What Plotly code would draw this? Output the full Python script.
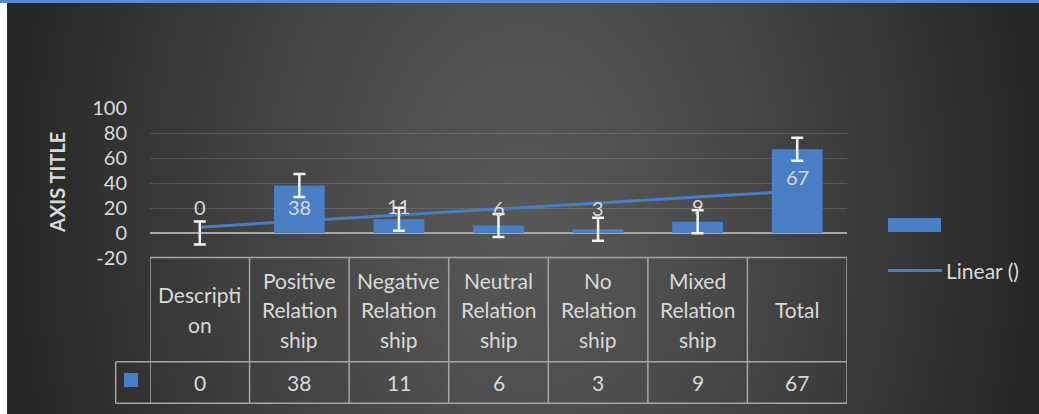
import base64
import struct
import zlib

import numpy as np
import plotly.graph_objects as go

# ---------------- data ----------------
categories = ["Description", "Positive Relationship", "Negative Relationship",
              "Neutral Relationship", "No Relationship", "Mixed Relationship", "Total"]
header_lines = [["Descripti", "on"], ["Positive", "Relation", "ship"],
                ["Negative", "Relation", "ship"], ["Neutral", "Relation", "ship"],
                ["No", "Relation", "ship"], ["Mixed", "Relation", "ship"], ["Total"]]
values = [0, 38, 11, 6, 3, 9, 67]
error_amount = 9.28          # standard-error bar (constant for all points)
trend_x = [categories[0], categories[-1]]
trend_y = [4.7, 33.6]        # linear trendline end values
y_ticks = [-20, 0, 20, 40, 60, 80, 100]
y_tick_text = ["-20", "0", "20", "40", "60", "80", "100"]

# label positions (layout, in data units)
label_y = [20.6, 20.6, 21.4, 19.8, 19.8, 21.4, 45.1]

# ---------------- geometry / style ----------------
W, H = 1039, 414
L, R, T, B = 150, 847, 108, 258
FONT = "Lato"
TXT = "#d9d9d9"
BAR = "#4a7fc5"
LINE = "#a6a6a6"


def xp(px):
    return (px - L) / (R - L)


def yp(py):
    return (B - py) / (B - T)


# ---------------- background gradient image ----------------
iw, ih = W - 7, H - 3
xs = np.arange(iw)[None, :]
ys = np.arange(ih)[:, None]
dx = (xs - iw / 2) / (iw / 2)
dy = (ys - ih / 2) / (ih / 2)
f = np.clip(np.sqrt(dx ** 2 + (0.28 * dy) ** 2), 0, 1)
c_center, c_edge = 88.0, 38.0
img = (c_edge + (c_center - c_edge) * (1 - f ** 1.3)).astype(np.uint8)
raw = b"".join(b"\x00" + img[r].tobytes() for r in range(ih))


def chunk(tag, data):
    c = struct.pack(">I", len(data)) + tag + data
    return c + struct.pack(">I", zlib.crc32(tag + data) & 0xFFFFFFFF)


png = (b"\x89PNG\r\n\x1a\n" + chunk(b"IHDR", struct.pack(">IIBBBBB", iw, ih, 8, 0, 0, 0, 0))
       + chunk(b"IDAT", zlib.compress(raw, 9)) + chunk(b"IEND", b""))
bg_src = "data:image/png;base64," + base64.b64encode(png).decode()

fig = go.Figure()

fig.add_trace(go.Bar(x=categories, y=values, marker=dict(color=BAR, line=dict(width=0)),
                     width=0.51, showlegend=False, hoverinfo="skip"))
fig.add_trace(go.Scatter(x=trend_x, y=trend_y, mode="lines",
                         line=dict(color="#4a7ec2", width=3), showlegend=False,
                         hoverinfo="skip"))
fig.add_trace(go.Scatter(x=categories, y=values, mode="markers",
                         marker=dict(opacity=0, size=1),
                         error_y=dict(type="constant", value=error_amount, color="#f2f2f2",
                                      thickness=2.5, width=6),
                         showlegend=False, hoverinfo="skip"))


def txt(x, y, text, xref="paper", yref="paper", size=21, **kw):
    d = dict(x=x, y=y, xref=xref, yref=yref, text=text, showarrow=False,
             xanchor="center", yanchor="middle",
             font=dict(family=FONT, size=size, color=TXT))
    d.update(kw)
    return d


annotations = []
for c, ly, v in zip(categories, label_y, values):
    annotations.append(txt(c, ly, str(v), xref="x", yref="y", size=20))

# axis title
annotations.append(txt(xp(57), yp(183), "<b>AXIS TITLE</b>", size=20, textangle=-90))

# data table
shapes = []
tbl_top, tbl_mid, tbl_bot = 257.5, 361.7, 403.3
key_left = 115.7
shapes.append(dict(type="line", xref="paper", yref="paper", x0=xp(L), x1=xp(R),
                   y0=yp(tbl_top), y1=yp(tbl_top), line=dict(color=LINE, width=1.5)))
for yy in (tbl_mid, tbl_bot):
    shapes.append(dict(type="line", xref="paper", yref="paper", x0=xp(key_left), x1=xp(R),
                       y0=yp(yy), y1=yp(yy), line=dict(color=LINE, width=1.5)))
shapes.append(dict(type="line", xref="paper", yref="paper", x0=xp(key_left), x1=xp(key_left),
                   y0=yp(tbl_mid), y1=yp(tbl_bot), line=dict(color=LINE, width=1.5)))
for i in range(len(categories) + 1):
    shapes.append(dict(type="line", xref="x", yref="paper", x0=i - 0.5, x1=i - 0.5,
                       y0=yp(tbl_top), y1=yp(tbl_bot), line=dict(color=LINE, width=1.5)))
# key square in table
shapes.append(dict(type="rect", xref="paper", yref="paper", x0=xp(124), x1=xp(138),
                   y0=yp(387), y1=yp(373), fillcolor=BAR, line=dict(width=0)))

head_c = (tbl_top + tbl_mid) / 2
for c, lines, v in zip(categories, header_lines, values):
    n = len(lines)
    for j, t in enumerate(lines):
        yy = head_c + (j - (n - 1) / 2) * 29.5
        annotations.append(txt(c, yp(yy), t, xref="x"))
    annotations.append(txt(c, yp((tbl_mid + tbl_bot) / 2), str(v), xref="x"))

# legend (manual)
shapes.append(dict(type="rect", xref="paper", yref="paper", x0=xp(888), x1=xp(941),
                   y0=yp(232), y1=yp(218), fillcolor=BAR, line=dict(width=0)))
shapes.append(dict(type="line", xref="paper", yref="paper", x0=xp(888), x1=xp(942),
                   y0=yp(270.5), y1=yp(270.5), line=dict(color="#4a7ec2", width=3)))
annotations.append(txt(xp(944), yp(270), "Linear ()", xanchor="left"))

# top blue band
shapes.append(dict(type="rect", xref="paper", yref="paper", x0=xp(0), x1=xp(W),
                   y0=yp(3), y1=yp(0), fillcolor="#588bd2", line=dict(width=0), layer="below"))

fig.update_layout(
    width=W, height=H,
    margin=dict(l=L, r=W - R, t=T, b=H - B, autoexpand=False),
    paper_bgcolor="white", plot_bgcolor="rgba(0,0,0,0)",
    bargap=0.49,
    images=[dict(source=bg_src, xref="paper", yref="paper", x=xp(7), y=yp(3),
                 sizex=iw / (R - L), sizey=ih / (B - T), xanchor="left", yanchor="top",
                 sizing="stretch", layer="below")],
    xaxis=dict(type="category", range=[-0.5, len(categories) - 0.5], showticklabels=False,
               showgrid=False, zeroline=False, showline=False, ticks=""),
    yaxis=dict(range=[-20, 100], tickvals=y_ticks, ticktext=y_tick_text, showgrid=True,
               gridcolor="rgba(255,255,255,0.13)", gridwidth=1,
               zeroline=True, zerolinecolor=LINE, zerolinewidth=2,
               showline=False, ticks="", ticklabelstandoff=22,
               tickfont=dict(family=FONT, size=20, color=TXT)),
    shapes=shapes, annotations=annotations, showlegend=False,
)

fig.write_html("out.html")
